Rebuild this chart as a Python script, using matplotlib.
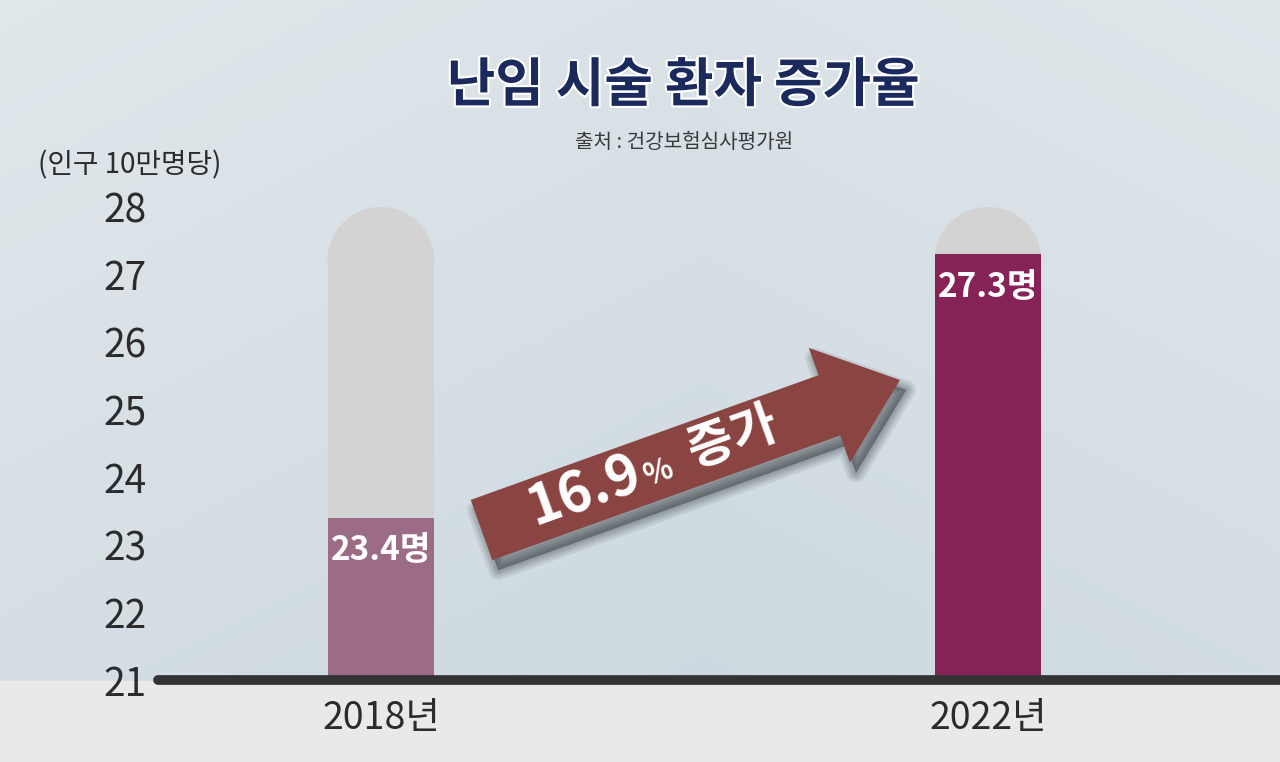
import numpy as np
import matplotlib.pyplot as plt
from matplotlib.patches import Ellipse, Polygon
from matplotlib.transforms import Affine2D
import matplotlib.patheffects as pe

# data
years = ['2018년', '2022년']
values = [23.4, 27.3]
value_labels = ['23.4명', '27.3명']
bar_colors = ['#9c6b85', '#852357']
y_ticks = [21, 22, 23, 24, 25, 26, 27, 28]
y_min, y_max = 21, 28
increase = '16.9'

W, H = 1280, 762
fig = plt.figure(figsize=(W / 100, H / 100), dpi=100)

KR = ['Noto Sans CJK KR', 'DejaVu Sans']

# pixel coords (y down) -> figure
pix = Affine2D().scale(1 / W, -1 / H).translate(0, 1) + fig.transFigure

# background gradient + bottom strip
bg = fig.add_axes([0, 0, 1, 1])
bg.set_axis_off()
gx, gy = np.meshgrid(np.linspace(0, 1, 200), np.linspace(0, 1, 200))
c_top = np.array([224, 231, 235]) / 255
c_low = np.array([204, 216, 223]) / 255
k = np.clip(0.7 * gy + 0.3 * (1 - np.abs(gx - 0.55) * 2), 0, 1)[..., None]
img = c_top * (1 - k) + c_low * k
bg.imshow(img, extent=[0, 1, 0, 1], aspect='auto', origin='upper')
bg.add_patch(plt.Rectangle((0, 0), 1, 81 / H, color='#e9e9e8', lw=0))
bg.set_xlim(0, 1)
bg.set_ylim(0, 1)

# main axes
ax = fig.add_axes([158 / W, 82 / H, 1122 / W, 473 / H])
ax.patch.set_alpha(0)
x = np.arange(len(years))
ax.set_xlim(-0.3674, 1.4811)
ax.set_ylim(y_min, y_max)
bw = 0.176

# rounded gray tracks
px_x = 1122 / (1.4811 + 0.3674)
px_y = 473 / (y_max - y_min)
ry = (bw * px_x / 2) / px_y
track = '#d3d3d3'
ax.bar(x, y_max - ry - y_min, bottom=y_min, width=bw, color=track, lw=0, zorder=1)
for xi in x:
    ax.add_patch(Ellipse((xi, y_max - ry), bw, 2 * ry, facecolor=track,
                         lw=0, zorder=1, clip_on=False))

# value bars
ax.bar(x, np.array(values) - y_min, bottom=y_min, width=bw, color=bar_colors, zorder=3)
for xi, v, lab in zip(x, values, value_labels):
    ax.annotate(lab, (xi, v), xytext=(0, -33), textcoords='offset pixels',
                ha='center', va='center', color='white', fontsize=24,
                fontweight='bold', family=KR, zorder=5)

# baseline
ax.axhline(y_min, color='#333333', lw=7, solid_capstyle='round', clip_on=False, zorder=4)

for s in ax.spines.values():
    s.set_visible(False)
ax.set_yticks(y_ticks)
ax.set_yticklabels([str(t) for t in y_ticks], family=KR, fontsize=28, color='#2b2b2b')
ax.set_xticks(x)
ax.set_xticklabels(years, family=KR, fontsize=27, color='#2b2b2b')
ax.tick_params(axis='y', length=0, pad=8)
ax.tick_params(axis='x', length=0, pad=14)

# titles
fig.text(683 / W, 1 - 86 / H, '난임 시술 환자 증가율', ha='center', va='center',
         fontsize=38, fontweight='bold', color='#1b2a5c', family=KR,
         path_effects=[pe.withStroke(linewidth=3, foreground='white')])
fig.text(684 / W, 1 - 143 / H, '출처 : 건강보험심사평가원', ha='center', va='center',
         fontsize=14.5, color='#3a3a3a', family=KR)
fig.text(130 / W, 1 - 165 / H, '(인구 10만명당)', ha='center', va='center',
         fontsize=20, color='#2b2b2b', family=KR)

# arrow with soft shadow
tail = np.array([481.5, 530.0])
tip = np.array([900.0, 380.0])
u = (tip - tail) / np.linalg.norm(tip - tail)
n = np.array([-u[1], u[0]])
hw, head_len, head_hw = 32, 75, 61
base = tip - head_len * u
pts = np.array([tail - hw * n, base - hw * n, base - head_hw * n, tip,
                base + head_hw * n, base + hw * n, tail + hw * n])
for lw_ in [14, 10, 7, 4, 1]:
    fig.patches.append(Polygon(pts + np.array([6, 10]), closed=True,
                               facecolor='#1e2428', edgecolor='#1e2428', lw=lw_,
                               alpha=0.09, transform=pix, joinstyle='round'))
fig.patches.append(Polygon(pts, closed=True, facecolor='#8a4542', lw=0, transform=pix))

ang = np.degrees(np.arctan2(tail[1] - tip[1], tip[0] - tail[0]))
for txt, s, off, size in [(increase, 110, -2, 40), ('%', 186, 6, 22), ('증가', 268, -2, 36)]:
    p = tail + s * u + off * n
    fig.text(p[0], p[1], txt, transform=pix, rotation=ang, rotation_mode='anchor',
             ha='center', va='center', color='white', fontsize=size,
             fontweight='bold', family=KR)

fig.savefig('out.png', dpi=100)
